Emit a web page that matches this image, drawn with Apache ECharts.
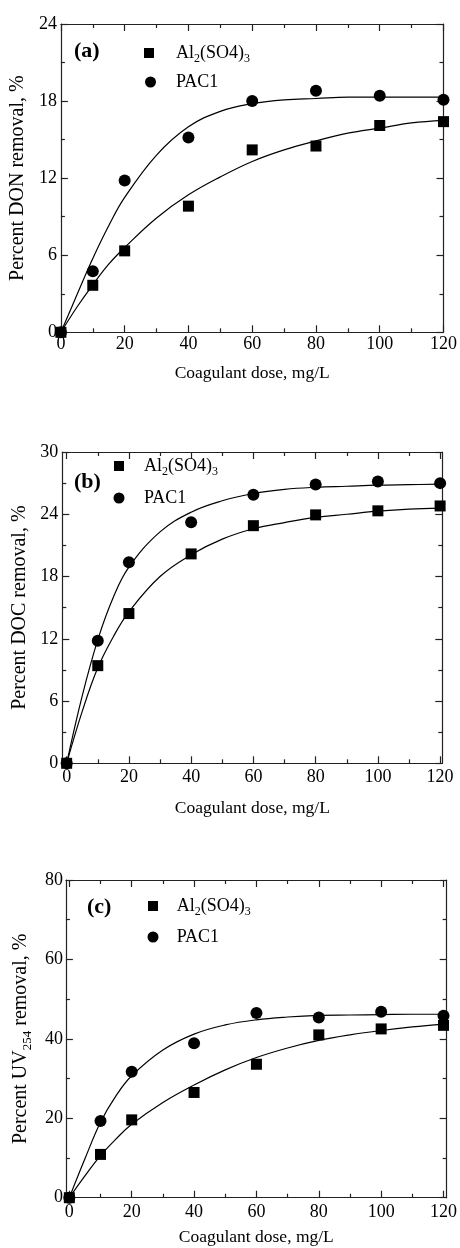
<!DOCTYPE html>
<html>
<head>
<meta charset="utf-8">
<script src="https://cdn.jsdelivr.net/npm/echarts@6/dist/echarts.min.js"></script>
<style>
  html, body { margin: 0; padding: 0; background: #fff; }
  #chart { width: 460px; height: 1248px; }
</style>
</head>
<body>
<div id="chart"></div>
<script>
// measured points, coagulant dose in mg/L
const dose = [0, 10, 20, 40, 60, 80, 100, 120];

const alDon = [0, 3.66, 6.34, 9.82, 14.2, 14.5, 16.1, 16.4];
const pacDon = [0, 4.75, 11.82, 15.17, 18.0, 18.8, 18.42, 18.1];
const alDoc = [0, 9.41, 14.43, 20.18, 22.9, 23.94, 24.33, 24.8];
const pacDoc = [0, 11.8, 19.38, 23.24, 25.87, 26.87, 27.16, 27.0];
const alUv = [0, 10.9, 19.6, 26.5, 33.6, 41.0, 42.5, 43.4];
const pacUv = [0, 19.3, 31.7, 38.9, 46.5, 45.4, 46.8, 45.8];

// fitted curves
const fitDose = [0, 5, 10, 15, 20, 30, 40, 50, 60, 70, 80, 90, 100, 110, 120];
const alDonFit = [0, 1.95, 3.7, 5.3, 6.6, 8.9, 10.7, 12.1, 13.3, 14.2, 14.9, 15.5, 15.9, 16.3, 16.5];
const pacDonFit = [0, 2.9, 5.75, 8.3, 10.5, 13.8, 16.0, 17.2, 17.8, 18.1, 18.2, 18.3, 18.3, 18.3, 18.3];
const alDocFit = [0, 5.0, 9.2, 12.2, 14.6, 18.0, 20.1, 21.6, 22.6, 23.2, 23.7, 24.0, 24.3, 24.5, 24.6];
const pacDocFit = [0, 6.5, 11.9, 16.0, 18.9, 22.3, 24.2, 25.3, 26.0, 26.4, 26.6, 26.7, 26.8, 26.85, 26.9];
const alUvFit = [0, 5.5, 10.6, 14.8, 18.5, 24.0, 28.4, 32.2, 35.3, 37.7, 39.6, 41.0, 42.1, 43.0, 43.7];
const pacUvFit = [0, 9.8, 19.0, 25.7, 30.7, 37.2, 41.2, 43.5, 44.8, 45.5, 45.9, 46.0, 46.1, 46.2, 46.2];

const xMajor = [0, 20, 40, 60, 80, 100, 120];
const xMinor = [10, 30, 50, 70, 90, 110];

const ink = '#000';
const axisInk = '#222';
const serif = 'Liberation Serif, Times New Roman, serif';

const legendRich = {
  n: { fontFamily: serif, fontSize: 18, color: ink, lineHeight: 24 },
  s: { fontFamily: serif, fontSize: 12, color: ink, lineHeight: 12, padding: [12, 0, 0, 0] }
};
const nameRich = {
  n: { fontFamily: serif, fontSize: 20, color: ink, lineHeight: 26 },
  s: { fontFamily: serif, fontSize: 13, color: ink, lineHeight: 13, padding: [13, 0, 0, 0] }
};

const panels = [
  {
    tag: '(a)', tagPos: [74, 40],
    yName: 'Percent DON removal, %', yMax: 24, yStep: 6,
    xMin: 0, xMax: 120,
    grid: { left: 58.3, top: 24, width: 385.4, height: 308.3 },
    xLabelMargin: 3, xNameGap: 32, yNameGap: 28, yLabelMargin: 4,
    legendAl: [144, 41, 17], legendPac: [145, 73, 15],
    al: alDon, pac: pacDon, alFit: alDonFit, pacFit: pacDonFit
  },
  {
    tag: '(b)', tagPos: [74, 471],
    yName: 'Percent DOC removal, %', yMax: 30, yStep: 6,
    xMin: -1.4, xMax: 120.7,
    grid: { left: 62.3, top: 452, width: 380, height: 311.3 },
    xLabelMargin: 5, xNameGap: 36, yNameGap: 27, yLabelMargin: 4,
    legendAl: [114, 454, 15], legendPac: [113.5, 489, 14.5],
    al: alDoc, pac: pacDoc, alFit: alDocFit, pacFit: pacDocFit
  },
  {
    tag: '(c)', tagPos: [87, 896],
    yName: '{n|Percent UV}{s|254}{n| removal, %}', yRich: true, yMax: 80, yStep: 20,
    xMin: -1.1, xMax: 121,
    grid: { left: 62.3, top: 880, width: 386.7, height: 317.7 },
    xLabelMargin: 6, xNameGap: 31, yNameGap: 28, yLabelMargin: 3,
    legendAl: [148, 894, 13.7], legendPac: [147.5, 928, 13.2],
    al: alUv, pac: pacUv, alFit: alUvFit, pacFit: pacUvFit
  }
];

const grid = [], xAxis = [], yAxis = [], series = [], legend = [], title = [];

const lineStyle = { color: axisInk, width: 1.2 };

panels.forEach((p, gi) => {
  grid.push(p.grid);

  title.push({
    text: p.tag, left: p.tagPos[0], top: p.tagPos[1], padding: 0,
    textStyle: { fontFamily: serif, fontSize: 22, fontWeight: 'bold', color: ink }
  });

  const xBase = { gridIndex: gi, type: 'value', min: p.xMin, max: p.xMax, splitLine: { show: false } };
  xAxis.push(
    {
      ...xBase, position: 'bottom',
      name: 'Coagulant dose, mg/L', nameLocation: 'middle', nameGap: p.xNameGap,
      nameTextStyle: { fontFamily: serif, fontSize: 17.5, color: ink },
      axisLine: { show: true, onZero: false, lineStyle },
      axisTick: { inside: true, length: 7, customValues: xMajor, lineStyle },
      axisLabel: { customValues: xMajor, margin: p.xLabelMargin, fontFamily: serif, fontSize: 18, color: ink }
    },
    {
      ...xBase, position: 'bottom',
      axisLine: { show: false, onZero: false },
      axisTick: { inside: true, length: 4, customValues: xMinor, lineStyle },
      axisLabel: { show: false }
    },
    {
      ...xBase, position: 'top',
      axisLine: { show: true, onZero: false, lineStyle },
      axisTick: { inside: true, length: 7, customValues: xMajor, lineStyle },
      axisLabel: { show: false }
    },
    {
      ...xBase, position: 'top',
      axisLine: { show: false, onZero: false },
      axisTick: { inside: true, length: 4, customValues: xMinor, lineStyle },
      axisLabel: { show: false }
    }
  );

  const yBase = {
    gridIndex: gi, type: 'value', min: 0, max: p.yMax, interval: p.yStep,
    splitLine: { show: false },
    axisLine: { show: true, onZero: false, lineStyle },
    axisTick: { inside: true, length: 7, lineStyle },
    minorTick: { show: true, splitNumber: 2, length: 4, lineStyle },
    minorSplitLine: { show: false }
  };
  yAxis.push(
    {
      ...yBase, position: 'left',
      name: p.yName, nameLocation: 'middle', nameGap: p.yNameGap,
      nameTextStyle: p.yRich
        ? { fontFamily: serif, fontSize: 20, color: ink, rich: nameRich }
        : { fontFamily: serif, fontSize: 20, color: ink },
      axisLabel: { margin: p.yLabelMargin, fontFamily: serif, fontSize: 18, color: ink }
    },
    { ...yBase, position: 'right', axisLabel: { show: false } }
  );

  const xi = gi * 4, yi = gi * 2;
  const curve = (vals) => ({
    type: 'line', xAxisIndex: xi, yAxisIndex: yi,
    data: fitDose.map((x, i) => [x, vals[i]]),
    smooth: 0.4, showSymbol: false, silent: true,
    lineStyle: { color: ink, width: 1.2 }, z: 2
  });
  series.push(curve(p.alFit), curve(p.pacFit));
  series.push({
    type: 'scatter', name: 'PAC1', xAxisIndex: xi, yAxisIndex: yi,
    symbol: 'circle', symbolSize: 12, itemStyle: { color: ink, opacity: 1 },
    data: dose.map((x, i) => [x, p.pac[i]]), z: 3
  });
  series.push({
    type: 'scatter', name: 'Al2(SO4)3', xAxisIndex: xi, yAxisIndex: yi,
    symbol: 'rect', symbolSize: 11, itemStyle: { color: ink, opacity: 1 },
    data: dose.map((x, i) => [x, p.al[i]]), z: 4
  });

  legend.push({
    data: ['Al2(SO4)3'], left: p.legendAl[0], top: p.legendAl[1], padding: 0,
    itemWidth: 10, itemHeight: 10, selectedMode: false,
    itemStyle: { opacity: 1 },
    formatter: () => '{g|}{n|Al}{s|2}{n|(SO4)}{s|3}',
    textStyle: { rich: { ...legendRich, g: { width: p.legendAl[2] } } }
  });
  legend.push({
    data: ['PAC1'], left: p.legendPac[0], top: p.legendPac[1], padding: 0,
    itemWidth: 11, itemHeight: 11, selectedMode: false,
    itemStyle: { opacity: 1 },
    formatter: () => '{g|}{n|PAC1}',
    textStyle: { rich: { ...legendRich, g: { width: p.legendPac[2] } } }
  });
});

const chart = echarts.init(document.getElementById('chart'));
chart.setOption({
  animation: false,
  backgroundColor: '#fff',
  title, legend, grid, xAxis, yAxis, series
});
</script>
</body>
</html>
